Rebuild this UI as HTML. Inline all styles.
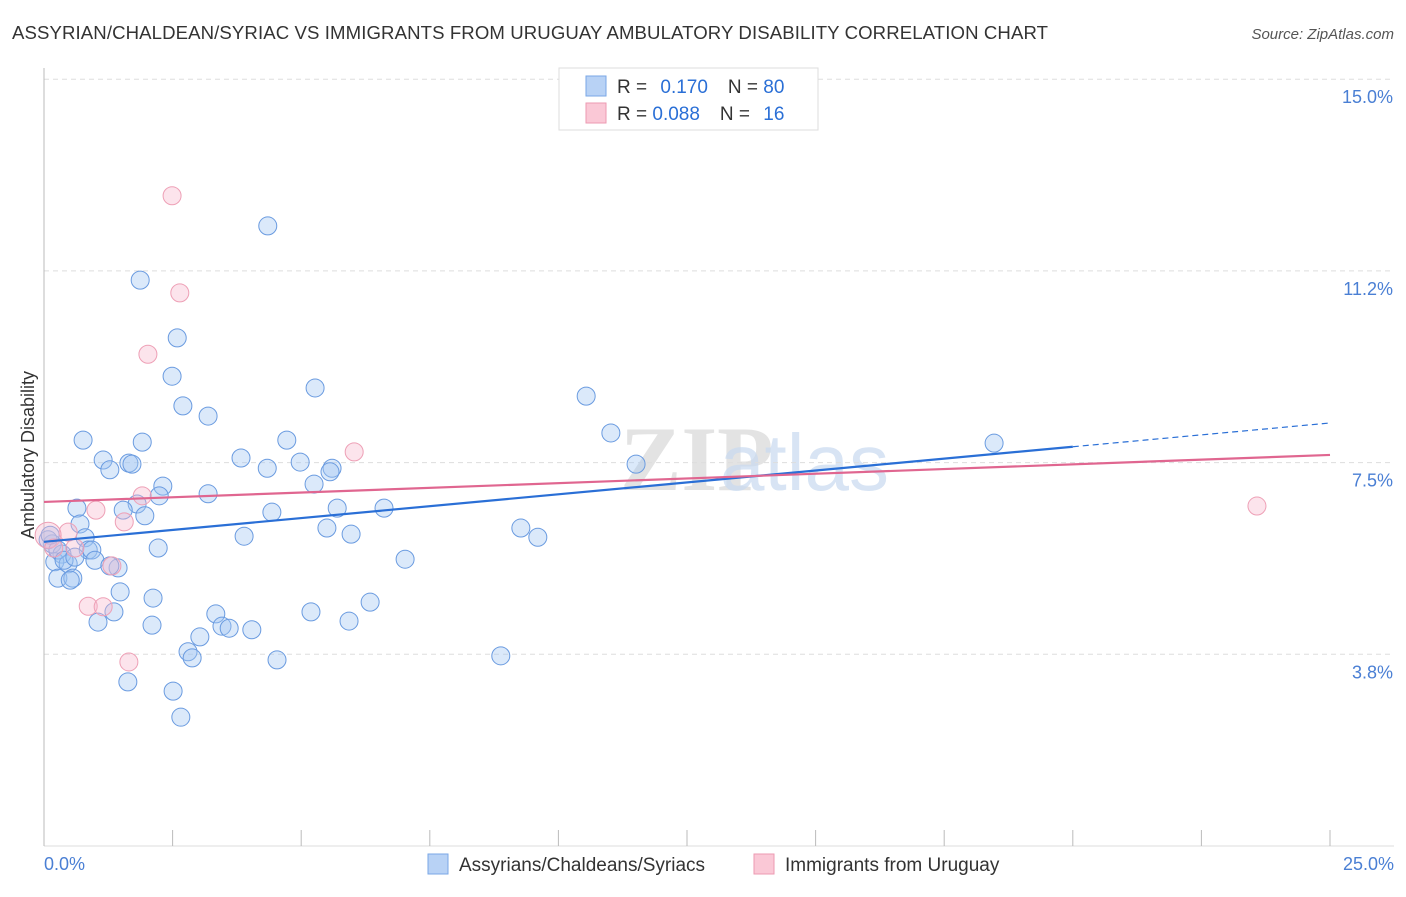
<!DOCTYPE html>
<html><head><meta charset="utf-8"><style>
body{margin:0;background:#fff;font-family:"Liberation Sans",sans-serif}
</style></head><body>
<svg width="1406" height="892" xmlns="http://www.w3.org/2000/svg" style="font-family:'Liberation Sans',sans-serif">
<text x="12" y="39" font-size="18.6" fill="#333" letter-spacing="0.1">ASSYRIAN/CHALDEAN/SYRIAC VS IMMIGRANTS FROM URUGUAY AMBULATORY DISABILITY CORRELATION CHART</text>
<text x="1394" y="39" font-size="15" fill="#555" font-style="italic" text-anchor="end">Source: ZipAtlas.com</text>
<text x="620" y="490" font-size="92" fill="#d8d8d8" font-family="Liberation Serif" font-weight="bold" opacity="0.7">ZIP</text>
<text x="720" y="490" font-size="80" fill="#c8daf0" opacity="0.7">atlas</text>
<g id="grid"></g><g id="axes"></g><g id="marks"></g>
<text transform="translate(34,455) rotate(-90)" font-size="18" fill="#333" text-anchor="middle">Ambulatory Disability</text>
<text x="44" y="870" font-size="18" fill="#4a7fd4">0.0%</text>
<text x="1394" y="870" font-size="18" fill="#4a7fd4" text-anchor="end">25.0%</text>
<g>
<rect x="559" y="68" width="259" height="62" fill="#fff" stroke="#ddd"/>
<rect x="586" y="76" width="20" height="20" fill="#b8d2f5" stroke="#7aa7e6"/>
<rect x="586" y="103" width="20" height="20" fill="#fac8d6" stroke="#ec9ab2"/>
<text x="617" y="93" font-size="19" fill="#333">R = <tspan fill="#2a6fd6" dx="8">0.170</tspan><tspan dx="20">N = </tspan><tspan fill="#2a6fd6">80</tspan></text>
<text x="617" y="120" font-size="19" fill="#333">R = <tspan fill="#2a6fd6">0.088</tspan><tspan dx="20">N = </tspan><tspan fill="#2a6fd6" dx="8">16</tspan></text>
</g>
<g>
<rect x="428" y="854" width="20" height="20" fill="#b8d2f5" stroke="#7aa7e6"/>
<text x="459" y="871" font-size="19" fill="#333">Assyrians/Chaldeans/Syriacs</text>
<rect x="754" y="854" width="20" height="20" fill="#fac8d6" stroke="#ec9ab2"/>
<text x="785" y="871" font-size="19" fill="#333">Immigrants from Uruguay</text>
</g>
</svg>
<script>
const blueX=[4.35,1.87,2.59,2.49,5.27,2.70,3.19,10.54,0.76,1.91,4.72,11.02,1.15,3.83,1.65,1.71,1.28,4.34,4.98,5.60,5.56,11.51,18.47,2.31,5.25,3.19,2.24,1.81,1.54,0.64,1.96,4.43,5.70,6.61,0.70,5.50,9.27,3.89,5.97,9.60,0.16,0.80,2.22,0.86,0.35,0.93,0.21,0.47,0.99,1.44,7.02,0.27,0.56,0.51,1.48,2.12,1.36,3.34,5.19,6.34,1.05,2.10,3.46,3.60,5.93,4.04,3.03,2.80,2.88,4.53,8.88,1.63,2.51,2.66,0.08,0.27,1.28,0.39,0.12,0.60];
const blueY=[12.13,11.07,9.94,9.19,8.96,8.61,8.41,8.80,7.94,7.90,7.94,8.08,7.55,7.59,7.49,7.47,7.36,7.39,7.51,7.39,7.32,7.47,7.88,7.04,7.08,6.89,6.85,6.69,6.57,6.61,6.46,6.53,6.61,6.61,6.30,6.22,6.22,6.06,6.10,6.04,5.91,6.03,5.83,5.79,5.71,5.79,5.56,5.52,5.59,5.44,5.61,5.24,5.24,5.20,4.97,4.85,4.58,4.54,4.58,4.77,4.38,4.32,4.30,4.26,4.40,4.23,4.09,3.80,3.68,3.64,3.72,3.21,3.03,2.52,5.99,5.79,5.48,5.59,6.08,5.65];
const pinkX=[2.49,2.64,2.02,6.03,23.58,1.91,1.01,1.56,0.47,0.08,0.19,0.60,1.32,0.86,1.15,1.65];
const pinkY=[12.72,10.82,9.62,7.71,6.65,6.85,6.57,6.34,6.14,6.08,5.83,5.83,5.48,4.69,4.68,3.60];
const yTicks=[3.75,7.5,11.25,15];
const yTickLabels=["3.8%","7.5%","11.2%","15.0%"];
const xTicks=[0,2.5,5,7.5,10,12.5,15,17.5,20,22.5,25];
const blueTrend=[5.95,0.093];
const pinkTrend=[6.73,0.0368];
const X=v=>44+v/25*1286, Y=v=>846-v/3.75*191.7;
const NS="http://www.w3.org/2000/svg";
function mk(t,a,p){const e=document.createElementNS(NS,t);for(const k in a)e.setAttribute(k,a[k]);p.appendChild(e);return e;}
const grid=document.getElementById('grid'),axes=document.getElementById('axes'),marks=document.getElementById('marks');
yTicks.forEach((t,i)=>{
 const l=mk('line',{x1:44,x2:1394,y1:Y(t),y2:Y(t),stroke:'#ddd','stroke-dasharray':'5,4'},grid);
 
 
 const tx=mk('text',{x:1393,y:Y(t)+24,'font-size':18,fill:'#4a7fd4','text-anchor':'end'},axes);
 tx.textContent=yTickLabels[i];
 
 
});
const ya=mk('line',{x1:44,x2:44,y1:68,y2:846,stroke:'#bbb'},axes);


const xa=mk('line',{x1:44,x2:1394,y1:846,y2:846,stroke:'#ddd'},axes);


xTicks.forEach(t=>{
 const l=mk('line',{x1:X(t),x2:X(t),y1:830,y2:846,stroke:'#bbb'},axes);
 
 
});
blueX.forEach((v,i)=>{
 const c=mk('circle',{cx:X(v),cy:Y(blueY[i]),r:9,fill:'rgba(160,196,242,0.38)',stroke:'#6a9be0','stroke-width':1},marks);
 
 
});
pinkX.forEach((v,i)=>{
 const c=mk('circle',{cx:X(v),cy:Y(pinkY[i]),r:i==9?13:9,fill:'rgba(248,184,204,0.38)',stroke:'#eea0b6','stroke-width':1},marks);
 
 
});
const b1=mk('line',{x1:X(0),y1:Y(blueTrend[0]),x2:X(20),y2:Y(blueTrend[0]+blueTrend[1]*20),stroke:'#2a6fd6','stroke-width':2.2},marks);


const b2=mk('line',{x1:X(20),y1:Y(blueTrend[0]+blueTrend[1]*20),x2:X(25),y2:Y(blueTrend[0]+blueTrend[1]*25),stroke:'#2a6fd6','stroke-width':1.2,'stroke-dasharray':'6,4'},marks);


const p1=mk('line',{x1:X(0),y1:Y(pinkTrend[0]),x2:X(25),y2:Y(pinkTrend[0]+pinkTrend[1]*25),stroke:'#e06690','stroke-width':2.2},marks);


</script>
</body></html>
